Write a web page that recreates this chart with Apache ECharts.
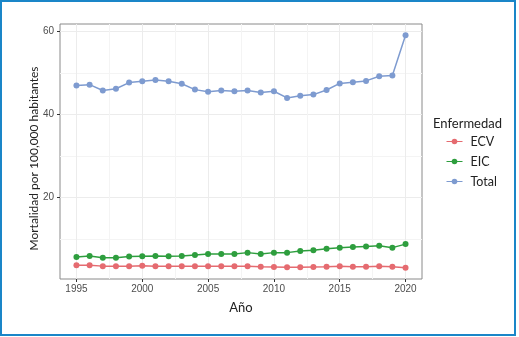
<!DOCTYPE html>
<html>
<head>
<meta charset="utf-8">
<script src="https://cdn.jsdelivr.net/npm/echarts@6/dist/echarts.min.js"></script>
<style>
  html, body { margin: 0; padding: 0; background: #fff; }
  #chart { width: 519px; height: 337px; }
</style>
</head>
<body>
<div id="chart"></div>
<script>
var years = [1995, 1996, 1997, 1998, 1999, 2000, 2001, 2002, 2003, 2004, 2005, 2006, 2007,
             2008, 2009, 2010, 2011, 2012, 2013, 2014, 2015, 2016, 2017, 2018, 2019, 2020];
var ecv = [3.7, 3.7, 3.5, 3.45, 3.5, 3.6, 3.5, 3.5, 3.5, 3.45, 3.45, 3.45, 3.45,
           3.45, 3.35, 3.3, 3.2, 3.2, 3.3, 3.35, 3.45, 3.35, 3.35, 3.45, 3.35, 3.1];
var eic = [5.7, 5.95, 5.5, 5.5, 5.8, 5.9, 5.95, 5.9, 5.95, 6.2, 6.4, 6.4, 6.4,
           6.75, 6.4, 6.75, 6.75, 7.15, 7.3, 7.7, 7.95, 8.1, 8.25, 8.4, 7.95, 8.8];
var total = [47.0, 47.2, 45.8, 46.2, 47.7, 48.0, 48.3, 48.0, 47.4, 46.0, 45.5, 45.8, 45.6,
             45.8, 45.3, 45.6, 44.0, 44.5, 44.8, 45.9, 47.5, 47.8, 48.1, 49.2, 49.4, 59.1];
var xTicks = [1995, 2000, 2005, 2010, 2015, 2020];
var xMinor = [1997.5, 2002.5, 2007.5, 2012.5, 2017.5];
var yTicks = [20, 40, 60];
var yMinor = [10, 30, 50];

var colors = { ECV: '#e56b70', EIC: '#2e9e3e', Total: '#7e9bd0' };

function pairs(vals) {
    return years.map(function (y, i) { return [y, vals[i]]; });
}

var chart = echarts.init(document.getElementById('chart'), null, { renderer: 'canvas' });

var xRange = { min: 1993.75, max: 2021.25 };
var yRange = { min: 0.4, max: 61.8 };
var tickFont = { fontFamily: 'Liberation Sans', fontSize: 10, color: '#4d4d4d' };

function lineSeries(name, vals) {
    return {
        name: name,
        type: 'line',
        data: pairs(vals),
        symbol: 'circle',
        symbolSize: 6,
        lineStyle: { color: colors[name], width: 1.5 },
        itemStyle: { color: colors[name] },
        silent: true,
        animation: false
    };
}

var option = {
    animation: false,
    graphic: [
        {
            type: 'rect',
            shape: { x: 1, y: 1, width: 514, height: 334 },
            style: { fill: 'none', stroke: '#1a86c8', lineWidth: 2 },
            z: 100
        }
    ],
    title: {
        text: 'Enfermedad',
        left: 428,
        top: 112,
        textStyle: { fontFamily: 'Lato', fontSize: 13, fontWeight: 'normal', color: '#222' }
    },
    legend: {
        orient: 'vertical',
        left: 441,
        top: 130,
        itemWidth: 16,
        itemHeight: 7,
        itemGap: 7,
        data: ['ECV', 'EIC', 'Total'],
        lineStyle: { width: 1 },
        textStyle: { fontFamily: 'Lato', fontSize: 12.5, color: '#222', padding: [0, 0, 0, 3] }
    },
    grid: {
        left: 60,
        top: 24,
        right: 97,
        bottom: 58,
        show: true,
        borderColor: '#8a8a8a',
        borderWidth: 1
    },
    xAxis: [
        {
            type: 'value',
            min: xRange.min,
            max: xRange.max,
            name: 'Año',
            nameLocation: 'middle',
            nameGap: 22,
            nameTextStyle: { fontFamily: 'Lato', fontSize: 13, color: '#222' },
            axisLine: { show: false },
            axisTick: { show: true, length: 3, customValues: xTicks, lineStyle: { color: '#333' } },
            axisLabel: Object.assign({
                margin: 5,
                customValues: xTicks,
                formatter: function (v) { return String(v); }
            }, tickFont),
            splitLine: { show: true, lineStyle: { color: '#ececec', width: 1 } }
        },
        {
            type: 'value',
            min: xRange.min,
            max: xRange.max,
            position: 'bottom',
            axisLine: { show: false },
            axisTick: { show: false, customValues: xMinor },
            axisLabel: { show: false, customValues: xMinor },
            splitLine: { show: true, lineStyle: { color: '#f4f4f4', width: 1 } }
        }
    ],
    yAxis: [
        {
            type: 'value',
            min: yRange.min,
            max: yRange.max,
            name: 'Mortalidad por 100,000 habitantes',
            nameLocation: 'middle',
            nameGap: 20,
            nameMoveOverlap: false,
            nameTextStyle: { fontFamily: 'Lato', fontSize: 12, color: '#222', padding: [0, 14, 0, 0] },
            axisLine: { show: false },
            axisTick: { show: true, length: 3, customValues: yTicks, lineStyle: { color: '#333' } },
            axisLabel: Object.assign({ margin: 6, customValues: yTicks }, tickFont),
            splitLine: { show: true, lineStyle: { color: '#ececec', width: 1 } }
        },
        {
            type: 'value',
            min: yRange.min,
            max: yRange.max,
            position: 'left',
            axisLine: { show: false },
            axisTick: { show: false, customValues: yMinor },
            axisLabel: { show: false, customValues: yMinor },
            splitLine: { show: true, lineStyle: { color: '#f4f4f4', width: 1 } }
        }
    ],
    series: [
        lineSeries('ECV', ecv),
        lineSeries('EIC', eic),
        lineSeries('Total', total)
    ]
};

chart.setOption(option);
</script>
</body>
</html>
